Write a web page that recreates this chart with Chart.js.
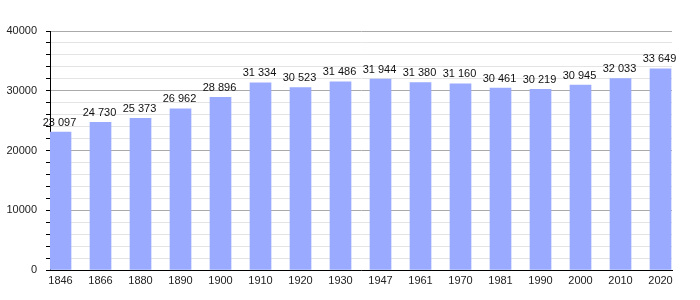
<!DOCTYPE html>
<html>
<head>
<meta charset="utf-8">
<script src="https://cdn.jsdelivr.net/npm/chart.js@4/dist/chart.umd.min.js"></script>
<style>
  html, body { margin: 0; padding: 0; background: #fff; }
  #wrap { width: 700px; height: 300px; }
</style>
</head>
<body>
<div id="wrap"><canvas id="my_chart" width="700" height="300"></canvas></div>
<script>
  // 年と人口
  var years = ['1846', '1866', '1880', '1890', '1900', '1910', '1920', '1930',
               '1947', '1961', '1970', '1981', '1990', '2000', '2010', '2020'];
  var population = [23097, 24730, 25373, 26962, 28896, 31334, 30523, 31486,
                    31944, 31380, 31160, 30461, 30219, 30945, 32033, 33649];
  var yTicks = [0, 10000, 20000, 30000, 40000];

  function fmt(n) {
    return String(n).replace(/\B(?=(\d{3})+(?!\d))/g, ' ');
  }

  // 棒の上に数値を書く
  var valueLabels = {
    id: 'valueLabels',
    afterDatasetsDraw(chart) {
      var ctx = chart.ctx;
      var meta = chart.getDatasetMeta(0);
      ctx.save();
      ctx.font = '11px "Liberation Sans", Arial, sans-serif';
      ctx.fillStyle = '#111';
      ctx.textAlign = 'center';
      ctx.textBaseline = 'bottom';
      meta.data.forEach(function(bar, i) {
        ctx.fillText(fmt(population[i]), bar.x - 1, bar.y - 4);
      });
      ctx.restore();
    }
  };

  var points = population.map(function(v, i) { return { x: i, y: v }; });

  var ctx = document.getElementById('my_chart').getContext('2d');
  var myChart = new Chart(ctx, {
    type: 'bar',
    data: {
      datasets: [{
        data: points,
        backgroundColor: '#99aaff',
        borderWidth: 0,
        barThickness: 21
      }]
    },
    plugins: [valueLabels],
    options: {
      responsive: false,
      animation: false,
      layout: { padding: { top: 31, right: 28, left: 0, bottom: 0 } },
      plugins: { legend: { display: false }, tooltip: { enabled: false } },
      scales: {
        x: {
          type: 'linear',
          offset: false,
          min: -0.2625,
          max: 15.2875,
          afterFit(scale) { scale.height = 30; },
          grid: { display: false, drawTicks: false },
          border: { color: '#000', width: 1 },
          ticks: {
            stepSize: 1,
            includeBounds: false,
            autoSkip: false,
            maxRotation: 0,
            padding: 4,
            color: '#222',
            font: { family: '"Liberation Sans", Arial, sans-serif', size: 11 },
            callback: function(v) { return Number.isInteger(v) ? years[v] : ''; }
          }
        },
        y: {
          min: yTicks[0],
          max: yTicks[yTicks.length - 1],
          afterFit(scale) { scale.width = 50; },
          border: { color: '#000', width: 1 },
          grid: {
            color: function(c) { return c.tick.value % 10000 === 0 ? '#aaaaaa' : '#e4e4e4'; },
            tickColor: '#000',
            tickLength: 4
          },
          ticks: {
            stepSize: 2000,
            autoSkip: false,
            padding: 9,
            color: '#222',
            font: { family: '"Liberation Sans", Arial, sans-serif', size: 11 },
            callback: function(v) { return yTicks.indexOf(v) >= 0 ? String(v) : ''; }
          }
        }
      }
    }
  });
</script>
</body>
</html>
